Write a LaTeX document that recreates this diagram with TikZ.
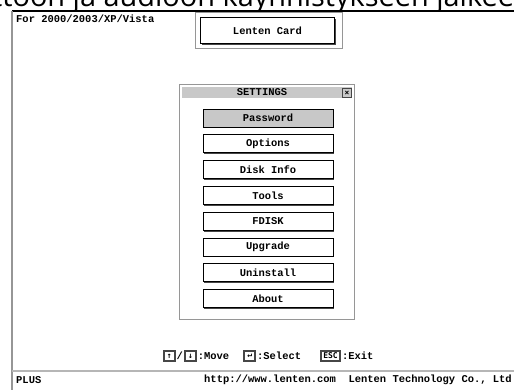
\documentclass[tikz,border=0pt]{standalone}
\usepackage{fontspec}
\usetikzlibrary{positioning,shadows}
\newfontfamily\dosfont{Liberation Mono}
\newfontfamily\keyfont{DejaVu Sans Mono}
\newfontfamily\capfont{Open Sans}
\definecolor{framegray}{RGB}{150,150,150}
\definecolor{bargray}{RGB}{200,200,200}
\definecolor{shade}{RGB}{70,70,70}

\begin{document}
\begin{tikzpicture}[x=1bp, y=-1bp, node distance=6.8bp]
\tikzset{
  txt/.style={inner sep=0pt, font=\dosfont\bfseries\fontsize{10.5}{12}\selectfont},
  btn/.style={txt, draw=black, line width=1bp, fill=white, minimum width=130bp, minimum height=18bp,
    drop shadow={shadow xshift=1.3bp, shadow yshift=-1.3bp, fill=shade, opacity=1}},
  key/.style={draw=shade, line width=1.5bp, fill=white, inner sep=0pt, minimum height=10bp, minimum width=11bp,
    font=\keyfont\bfseries\fontsize{8}{8}\selectfont}
}
\useasboundingbox (0,0) rectangle (514,390);
\fill[white] (0,0) rectangle (514,390);
% caption above, cut by the top edge
\begin{scope}
\clip (0,0) rectangle (514,10.5);
\node[anchor=base west, inner sep=0pt, font=\capfont\fontsize{29}{32}\selectfont] (cap) at (-8,6.5) {ttoon ja audioon käynnistykseen jälkeen};
\end{scope}
% screen frame
\draw[shade, line width=1.5bp] (12,11) -- (514,11);
\draw[framegray, line width=1.5bp] (12,11) -- (12,390);
\draw[framegray!70, line width=2bp] (12,371) -- (514,371);

\node[txt, anchor=west] (os) at (16,19) {For 2000/2003/XP/Vista};
\draw[framegray, line width=0.8bp] (195,12) rectangle (342,48);
\node[btn, minimum width=134bp, minimum height=26bp] (card) at (267.5,30.5) {Lenten Card};

% settings window
\node[draw=framegray, line width=0.8bp, fill=white, minimum width=175bp, minimum height=235bp, inner sep=0pt,
  drop shadow={shadow xshift=1.3bp, shadow yshift=-1.3bp, fill=shade, opacity=1}] (dlg) at (266.5,201.5) {};
\fill[bargray] (182,87) rectangle (352,98);
\node[txt] (title) at (262,92.5) {SETTINGS};
\node[key, fill=bargray, line width=1bp, minimum width=9bp, minimum height=9bp] (close) at (347,93) {×};

\node[btn, fill=bargray] (b1) at (268,118) {Password};
\foreach \lbl [count=\i from 2] in {Options,Disk Info,Tools,FDISK,Upgrade,Uninstall,About}{
  \pgfmathtruncatemacro\prev{\i-1}
  \node[btn, below=of b\prev] (b\i) {\lbl};
}

% key help
\node[key, anchor=west] (kup) at (163,356) {↑};
\node[txt, right=1bp of kup] (slash) {/};
\node[key, right=1bp of slash] (kdn) {↓};
\node[txt, right=1bp of kdn] (tmove) {:Move};
\node[key, right=14bp of tmove] (kent) {↵};
\node[txt, right=1bp of kent] (tsel) {:Select};
\node[key, minimum width=19bp, right=19bp of tsel] (kesc) {ESC};
\node[txt, right=1bp of kesc] (texit) {:Exit};

% status line
\node[txt, anchor=west] (plus) at (16,380) {PLUS};
\node[txt, anchor=east] (url) at (512,380) {http://www.lenten.com\ \ Lenten Technology Co., Ltd};
\end{tikzpicture}
\end{document}
